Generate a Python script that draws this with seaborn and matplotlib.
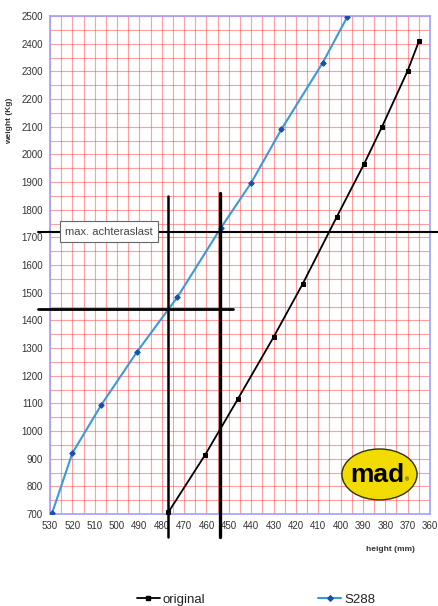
import numpy as np
import pandas as pd
import matplotlib
matplotlib.use("Agg")
import matplotlib.pyplot as plt
from matplotlib.patches import Ellipse
from matplotlib.lines import Line2D
import seaborn as sns

# ---- data ----
s288_height = [529, 520, 507, 491, 473, 453.5, 440, 426.5, 408, 397]
s288_weight = [705, 920, 1095, 1287, 1484, 1735, 1897, 2090, 2331, 2497]
orig_height = [477, 460.5, 446, 430, 417, 401.7, 389.5, 381.5, 370, 365]
orig_weight = [707, 915, 1115, 1339, 1531, 1774, 1965, 2099, 2302, 2408]
x_ticks = list(range(530, 359, -10))
y_ticks = list(range(700, 2501, 100))
max_load = 1720
ref_weight = 1441
ref_heights = [477, 454]

sns.set_theme(style="white")
plt.rcParams['font.family'] = ['Liberation Sans', 'DejaVu Sans']

fig = plt.figure(figsize=(4.38, 6.06), dpi=100)
ax = fig.add_axes([50/438, 1-514/606, 380/438, 498/606])

df_o = pd.DataFrame({"h": orig_height, "w": orig_weight})
df_s = pd.DataFrame({"h": s288_height, "w": s288_weight})

ax.set_xlim(530, 360)
ax.set_ylim(700, 2500)
ax.set_xticks(x_ticks)
ax.set_yticks(y_ticks)
ax.set_xticks(np.arange(360, 531, 5), minor=True)
ax.set_yticks(np.arange(700, 2501, 50), minor=True)
ax.grid(True, which='both', color='#ff4040', alpha=0.5, linewidth=0.8)
ax.set_axisbelow(True)
ax.tick_params(axis='both', which='both', length=0, labelsize=7, colors='#333333', pad=5)
for s in ax.spines.values():
    s.set_color('#a0a0ff')
    s.set_linewidth(1.2)

sns.lineplot(data=df_o, x="h", y="w", sort=False, color='black', marker='s',
             markersize=3, markeredgecolor='black', linewidth=1.3, ax=ax, zorder=4)
sns.lineplot(data=df_s, x="h", y="w", sort=False, color='#3a9ad8', marker='D',
             markersize=2.8, markerfacecolor='#1a4fb0', markeredgecolor='#1a4fb0',
             linewidth=1.5, ax=ax, zorder=4)

ax.set_xlabel("height (mm)", fontsize=6, fontweight='bold', color='#333333')
ax.xaxis.set_label_coords(0.895, -0.065)
ax.set_ylabel("weight (Kg)", fontsize=6, fontweight='bold', color='#333333')
ax.yaxis.set_label_coords(-0.098, 0.79)

# reference lines (extend outside the axes)
ax.plot([535.4, 356.4], [max_load, max_load], color='black', lw=1.5, clip_on=False, zorder=5)
ax.plot([535.4, 448], [ref_weight, ref_weight], color='black', lw=2.0, clip_on=False, zorder=5)
ax.plot([ref_heights[0], ref_heights[0]], [1849, 617], color='black', lw=1.8, clip_on=False, zorder=5)
ax.plot([ref_heights[1], ref_heights[1]], [1860, 617], color='black', lw=2.4, clip_on=False, zorder=5)

ax.text(503.6, max_load, "max. achteraslast", ha='center', va='center', fontsize=8,
        color='#444444', zorder=6,
        bbox=dict(boxstyle='square,pad=0.5', facecolor='white', edgecolor='#666666', lw=0.8))

# logo
ax.add_patch(Ellipse((382.6, 843), 33.6, 184, facecolor='#f2dc00', edgecolor='#333300',
                     lw=1.0, zorder=6))
ax.text(383.5, 840, "mad", ha='center', va='center', fontsize=19, fontweight='bold',
        color='black', zorder=7)
ax.text(370.5, 822, "®", ha='center', va='center', fontsize=4, color='black', zorder=7)

# legend
if ax.get_legend() is not None:
    ax.get_legend().remove()
handles = [Line2D([], [], color='black', marker='s', markersize=3, lw=1.3),
           Line2D([], [], color='#3a9ad8', marker='D', markersize=2.8, markerfacecolor='#1a4fb0',
                  markeredgecolor='#1a4fb0', lw=1.5)]
fig.legend(handles, ["original", "S288"], loc='center', bbox_to_anchor=(0.584, 0.01),
           ncol=2, frameon=False, fontsize=9.5, handlelength=1.75, handletextpad=0.2,
           columnspacing=8.6, labelcolor='#222222', borderpad=0, borderaxespad=0)

fig.savefig("out.png", dpi=100)
